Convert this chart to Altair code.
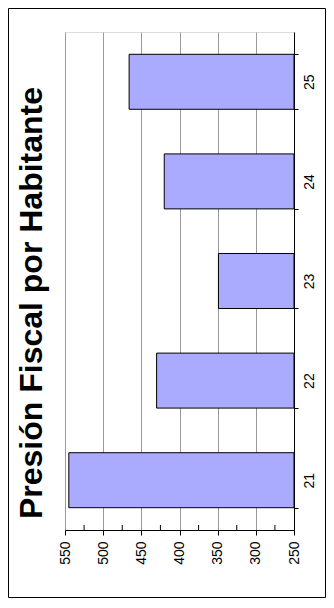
import altair as alt
import pandas as pd

categories = ["21", "22", "23", "24", "25"]
values = [545, 430, 349, 420, 466]
base_value = 250
major_ticks = [550, 500, 450, 400, 350, 300, 250]
minor_ticks = [275, 325, 375, 425, 475, 525]

df = pd.DataFrame({"cat": categories, "val": values, "base": [base_value] * len(values)})
minor_df = pd.DataFrame({"val": minor_ticks})

W, H = 229, 498
PAD_L, PAD_T = 57, 24
TOT_W, TOT_H = 318, 590
FONT = "Liberation Sans"

xscale = alt.Scale(domain=[250, 550], reverse=True, zero=False, nice=False)
yscale = alt.Scale(domain=categories[::-1], paddingInner=0.448, paddingOuter=0.224)
xaxis = alt.Axis(values=major_ticks, orient="bottom",
                 title=None, labelAngle=270, labelFontSize=14, labelFont=FONT,
                 labelColor="#000000", labelPadding=6, tickSize=5,
                 tickColor="#000000", domainColor="#000000", grid=True,
                 gridColor="#999999", gridWidth=1, labelFlush=False,
                 labelOverlap=False, labelAlign="right", labelBaseline="middle")

bars = alt.Chart(df).mark_bar(fill="#aaaaff", stroke="#000000", strokeWidth=1).encode(
    x=alt.X("val:Q", scale=xscale, axis=xaxis),
    x2="base:Q",
    y=alt.Y("cat:N", scale=yscale, sort=categories[::-1],
            axis=alt.Axis(orient="right", title=None, labelAngle=270, labelFontSize=14,
                          labelFont=FONT, labelColor="#000000", labelAlign="center",
                          labelBaseline="top", labelPadding=4, tickSize=4,
                          tickBand="extent", tickColor="#000000",
                          domainColor="#000000", grid=False)),
)

minor = alt.Chart(minor_df).mark_rule(color="#000000", strokeWidth=1).encode(
    x=alt.X("val:Q", scale=xscale, axis=xaxis),
    y=alt.value(H - 5),
    y2=alt.value(H),
)

title_df = pd.DataFrame({"t": ["Presión Fiscal por Habitante"]})
title = alt.Chart(title_df).mark_text(
    angle=270, fontSize=32, font=FONT, fontWeight="bold", color="#000000",
    align="center", baseline="alphabetic"
).encode(
    text="t:N",
    x=alt.value(-PAD_L + 34),
    y=alt.value(H / 2 + 22),
)

frame = alt.Chart(pd.DataFrame({"a": [0]})).mark_rect(
    fill=None, stroke="#000000", strokeWidth=1
).encode(
    x=alt.value(-PAD_L + 0.5),
    x2=alt.value(TOT_W - PAD_L - 0.5),
    y=alt.value(-PAD_T + 0.5),
    y2=alt.value(TOT_H - PAD_T - 0.5),
)

chart = alt.layer(frame, bars, minor, title).properties(
    width=W,
    height=H,
    autosize=alt.AutoSizeParams(type="none"),
    padding={"left": PAD_L, "top": PAD_T, "right": TOT_W - PAD_L - W, "bottom": TOT_H - PAD_T - H},
).configure_view(stroke="#000000", strokeWidth=1).configure(background="#ffffff")

chart.save("out.html", embed_options={"renderer": "svg", "actions": False})
